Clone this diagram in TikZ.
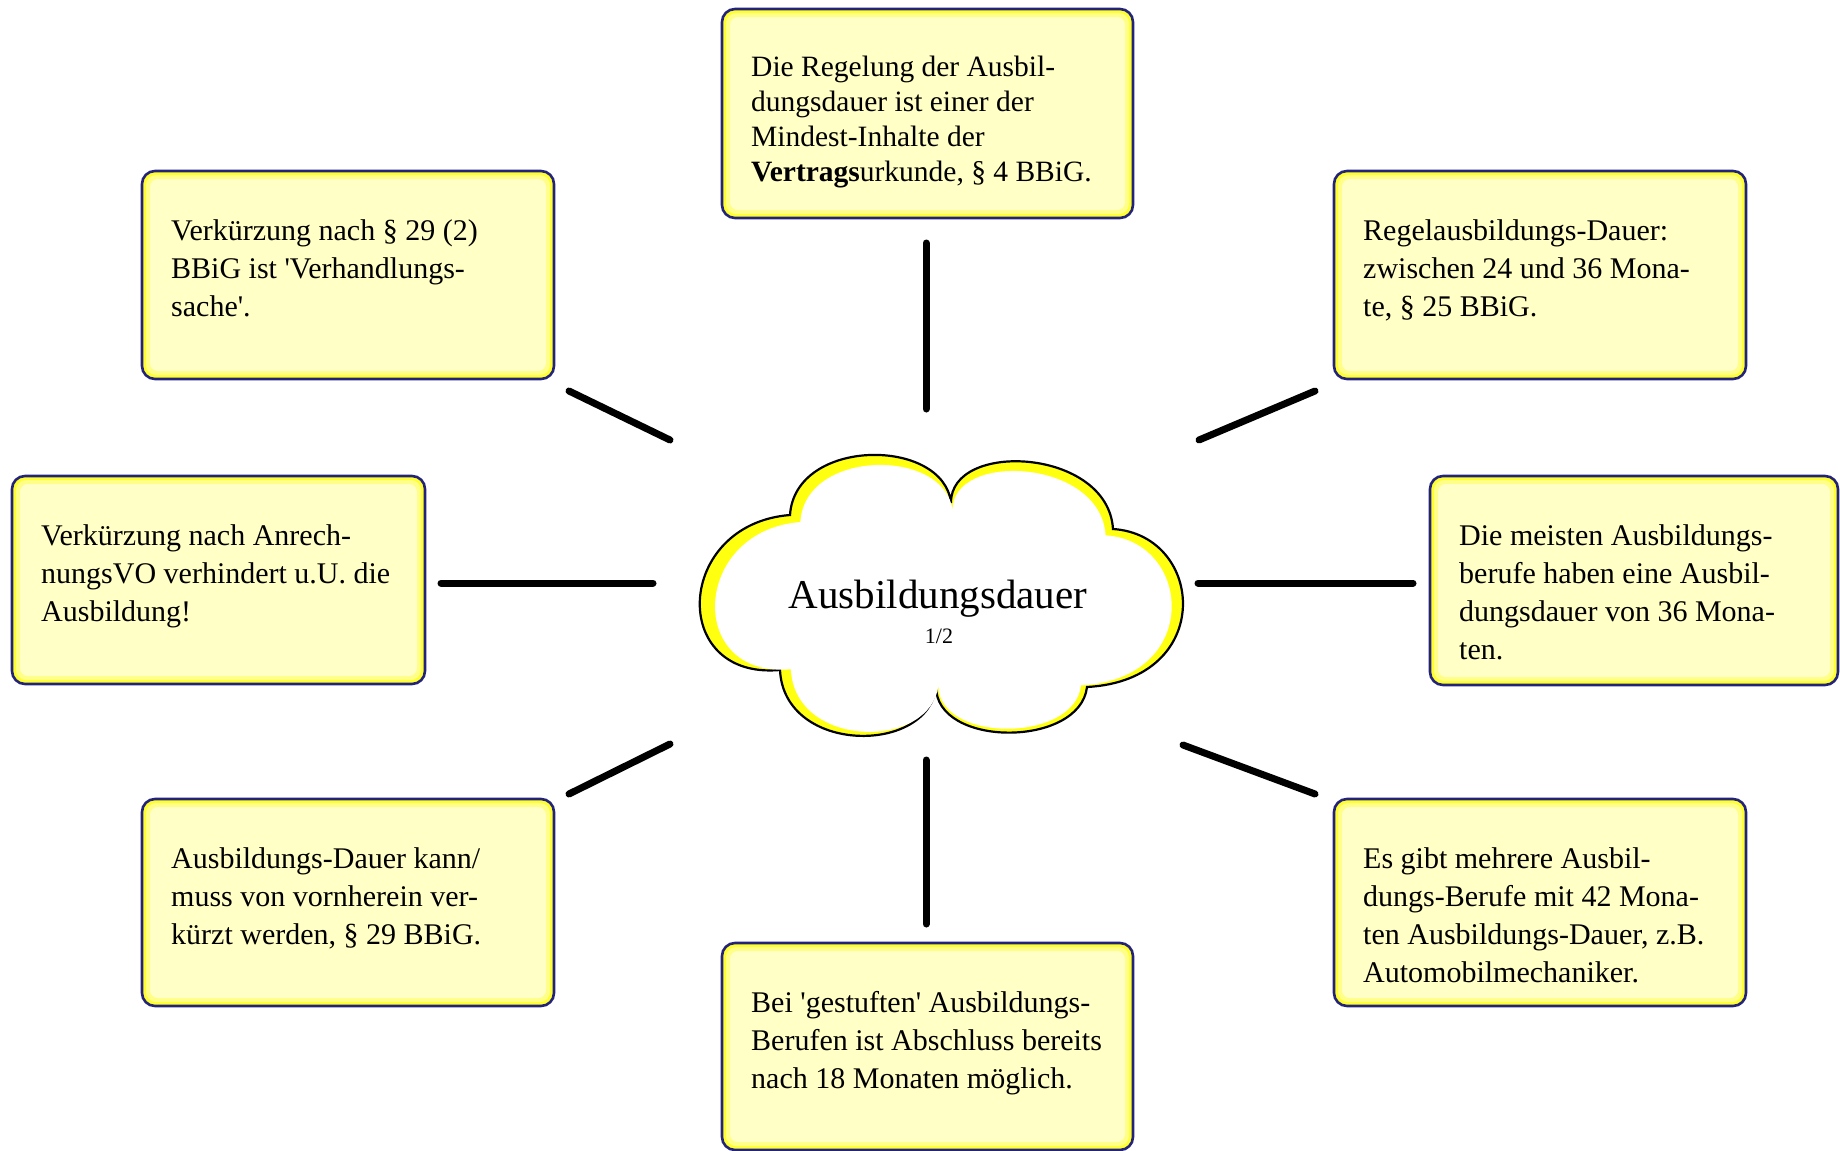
\documentclass[tikz,border=0pt]{standalone}
\usepackage{fontspec}
\newfontfamily\boxfont{Liberation Serif}
\definecolor{boxline}{HTML}{23237A}
\definecolor{boxband}{HTML}{FFFF30}
\definecolor{boxmid}{HTML}{FFFF88}
\definecolor{boxpale}{HTML}{FFFFC6}
\definecolor{cloudyellow}{HTML}{FFFF10}

% cloud outline: six puffs, coordinates in pixels (y grows downwards)
\def\cloudshape{(790,515) .. controls (795,437) and (944,437) .. (951,503)
  .. controls (950,440) and (1108,448) .. (1113,529)
  .. controls (1205,535) and (1216,680) .. (1087,687)
  .. controls (1080,748) and (935,748) .. (936,686)
  .. controls (930,755) and (784,755) .. (780,670)
  .. controls (668,680) and (675,524) .. (790,515) -- cycle}

% #1 extra text style, #2 name, #3 left, #4 top, #5 right, #6 bottom, #7 text
\newcommand\notebox[7][]{%
  \path[boxframe] (#3,#4) rectangle (#5,#6);
  \fill[boxmid, rounded corners=10pt] (#3+4,#4+4) rectangle (#5-4,#6-4);
  \fill[boxpale, rounded corners=8pt] (#3+8,#4+8) rectangle (#5-8,#6-8);
  \node[boxtext,#1] (#2) at (#3+29,#4+43) {\strut #7};
}

\begin{document}
\begin{tikzpicture}[x=1pt,y=-1pt,
  boxframe/.style={draw=boxline, line width=2.6pt, fill=boxband, rounded corners=13pt},
  boxtext/.style={anchor=north west, inner sep=0pt, align=left,
    font=\boxfont\fontsize{30}{38}\selectfont},
  tighttext/.style={font=\boxfont\fontsize{29.5}{35}\selectfont},
  spoke/.style={line width=7pt, line cap=round, draw=black}]

\useasboundingbox (0,0) rectangle (1840,1151);
\fill[white] (0,0) rectangle (1840,1151);

% ---- central cloud: yellow body with an offset white face ----
\draw[fill=cloudyellow, draw=black, line width=2.2pt] \cloudshape;
\begin{scope}[shift={(943.5,598)}, xscale=0.945, yscale=0.95, shift={(-941.5,-595)}]
  \fill[white] \cloudshape;
\end{scope}
\node[anchor=base, inner sep=0pt, font=\boxfont\fontsize{41}{44}\selectfont]
  (hub) at (938,608) {Ausbildungsdauer};
\node[anchor=base, inner sep=0pt, font=\boxfont\fontsize{22}{24}\selectfont]
  (hubpage) at (939,643) {1/2};

% ---- surrounding notes ----
\notebox[tighttext]{top}{722}{9}{1133}{218}{Die Regelung der Ausbil-\\dungsdauer ist einer der\\Mindest-Inhalte der\\\textbf{Vertrags}urkunde, § 4 BBiG.}
\notebox{topleft}{142}{171}{554}{379}{Verkürzung nach § 29 (2)\\BBiG ist 'Verhandlungs-\\sache'.}
\notebox{topright}{1334}{171}{1746}{379}{Regelausbildungs-Dauer:\\zwischen 24 und 36 Mona-\\te, § 25 BBiG.}
\notebox{left}{12}{476}{425}{684}{Verkürzung nach Anrech-\\nungsVO verhindert u.U. die\\Ausbildung!}
\notebox{right}{1430}{476}{1838}{685}{Die meisten Ausbildungs-\\berufe haben eine Ausbil-\\dungsdauer von 36 Mona-\\ten.}
\notebox{botleft}{142}{799}{554}{1006}{Ausbildungs-Dauer kann/\\muss von vornherein ver-\\kürzt werden, § 29 BBiG.}
\notebox{botright}{1334}{799}{1746}{1006}{Es gibt mehrere Ausbil-\\dungs-Berufe mit 42 Mona-\\ten Ausbildungs-Dauer, z.B.\\Automobilmechaniker.}
\notebox{bottom}{722}{943}{1133}{1150}{Bei 'gestuften' Ausbildungs-\\Berufen ist Abschluss bereits\\nach 18 Monaten möglich.}

% ---- spokes between cloud and notes ----
\coordinate (sTa) at (926,243);  \coordinate (sTb) at (926,409);
\coordinate (sTLa) at (569,391); \coordinate (sTLb) at (670,440);
\coordinate (sTRa) at (1315,391); \coordinate (sTRb) at (1199,440);
\coordinate (sLa) at (441,583);  \coordinate (sLb) at (653,583);
\coordinate (sRa) at (1413,583); \coordinate (sRb) at (1198,583);
\coordinate (sBLa) at (569,794); \coordinate (sBLb) at (670,744);
\coordinate (sBRa) at (1315,794); \coordinate (sBRb) at (1183,745);
\coordinate (sBa) at (926,924);  \coordinate (sBb) at (926,760);

\draw[spoke] (sTa) -- (sTb);
\draw[spoke] (sTLa) -- (sTLb);
\draw[spoke] (sTRa) -- (sTRb);
\draw[spoke] (sLa) -- (sLb);
\draw[spoke] (sRa) -- (sRb);
\draw[spoke] (sBLa) -- (sBLb);
\draw[spoke] (sBRa) -- (sBRb);
\draw[spoke] (sBa) -- (sBb);
\end{tikzpicture}
\end{document}
